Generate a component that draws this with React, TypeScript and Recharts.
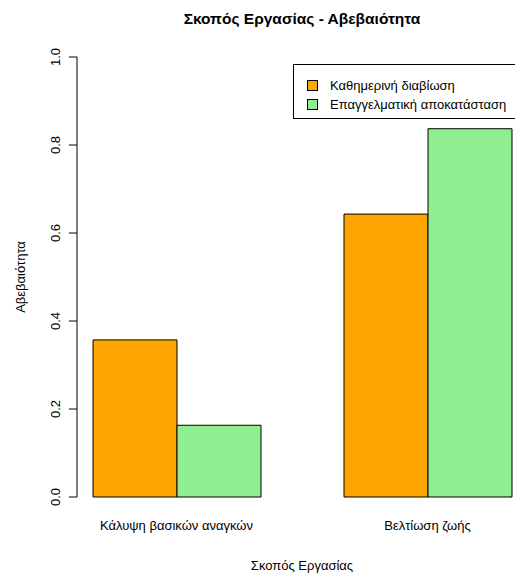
import React from "react";
import { BarChart, Bar, XAxis, YAxis, Legend, Label } from "recharts";

const categories = ["Κάλυψη βασικών αναγκών", "Βελτίωση ζωής"];
const dailyLiving = [0.357, 0.643];
const careerRestore = [0.163, 0.837];
const yTicks = [0, 0.2, 0.4, 0.6, 0.8, 1.0];

const seriesNames = ["Καθημερινή διαβίωση", "Επαγγελματική αποκατάσταση"];
const seriesColors = ["#FFA500", "#90EE90"];

const data = categories.map((c, i) => ({
  category: c,
  daily: dailyLiving[i],
  career: careerRestore[i],
}));

const FONT = "'Liberation Sans', Arial, Helvetica, sans-serif";

function YTick({ x, y, payload }: any) {
  return (
    <text x={x} y={y} transform={`rotate(-90, ${x}, ${y})`} textAnchor="middle"
      fontSize={13} fontFamily={FONT} fill="#000">
      {Number(payload.value).toFixed(1)}
    </text>
  );
}

function XTick({ x, y, payload }: any) {
  return (
    <text x={x} y={y} dy="0.35em" textAnchor="middle" fontSize={13} fontFamily={FONT} fill="#000">
      {payload.value}
    </text>
  );
}

// legend keeps the series order (recharts would sort it by name)
function renderLegend() {
  return (
    <div style={{
      border: "1px solid #000", height: 55, boxSizing: "border-box", background: "#fff",
      paddingTop: 11, paddingLeft: 13, fontFamily: FONT, fontSize: 13,
    }}>
      {seriesNames.map((name, i) => (
        <div key={name} style={{ display: "flex", alignItems: "center", height: 19 }}>
          <span style={{ width: 9, height: 9, background: seriesColors[i], border: "1px solid #000", marginRight: 12 }} />
          <span>{name}</span>
        </div>
      ))}
    </div>
  );
}

export default function App() {
  return (
    <div style={{ position: "absolute", left: 0, top: 0, width: 515, height: 577, overflow: "hidden", background: "#fff" }}>
      <div style={{
        position: "absolute", left: 102, width: 400, top: 10, textAlign: "center",
        fontFamily: FONT, fontWeight: "bold", fontSize: 15.5, lineHeight: "18px",
      }}>
        Σκοπός Εργασίας - Αβεβαιότητα
      </div>
      <BarChart width={515} height={577} data={data}
        margin={{ top: 57, right: 0, left: 17, bottom: 40 }}
        barGap={0} barCategoryGap={42}>
        <XAxis dataKey="category" axisLine={false} tickLine={false} tickSize={0} tickMargin={28}
          padding={{ left: -26, right: -38 }} tick={<XTick />} height={40} interval={0}>
          <Label content={({ viewBox }: any) => (
            <text x={viewBox.x + viewBox.width / 2 + 6} y={viewBox.y + 68} dy="0.35em" textAnchor="middle"
              fontSize={13} fontFamily={FONT} fill="#000">Σκοπός Εργασίας</text>
          )} />
        </XAxis>
        <YAxis domain={[0, 1]} ticks={yTicks} width={60} tickSize={8} tickMargin={9}
          axisLine={{ stroke: "#000" }} tickLine={{ stroke: "#000" }} tick={<YTick />}>
          <Label content={({ viewBox }: any) => {
            const cx = viewBox.x + 3;
            const cy = viewBox.y + viewBox.height / 2;
            return (
              <text x={cx} y={cy} transform={`rotate(-90, ${cx}, ${cy})`} textAnchor="middle"
                dominantBaseline="central" fontSize={13} fontFamily={FONT} fill="#000">Αβεβαιότητα</text>
            );
          }} />
        </YAxis>
        <Legend layout="vertical" align="center" verticalAlign="middle" content={renderLegend}
          wrapperStyle={{ position: "absolute", left: 293, top: 64, width: 232 }} />
        <Bar dataKey="daily" name={seriesNames[0]} fill={seriesColors[0]} stroke="#000" strokeWidth={1} isAnimationActive={false} />
        <Bar dataKey="career" name={seriesNames[1]} fill={seriesColors[1]} stroke="#000" strokeWidth={1} isAnimationActive={false} />
      </BarChart>
    </div>
  );
}
